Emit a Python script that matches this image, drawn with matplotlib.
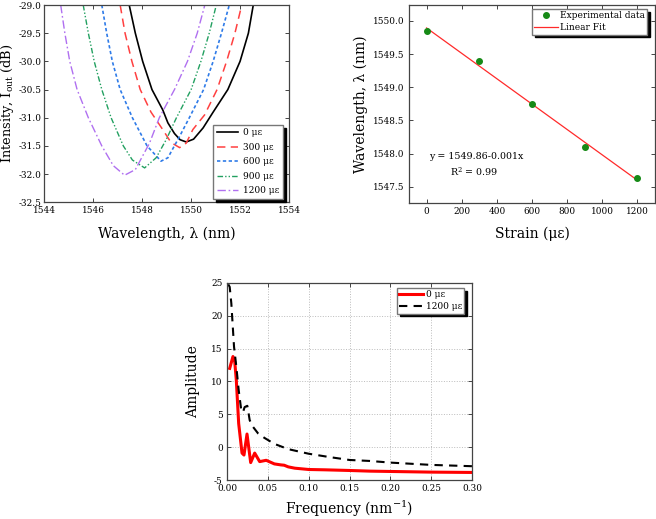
import numpy as np
import matplotlib
matplotlib.use("Agg")
import matplotlib.pyplot as plt
from matplotlib.ticker import FormatStrFormatter

plt.rcParams["font.family"] = ["DejaVu Serif"]
plt.rcParams["mathtext.fontset"] = "dejavuserif"
plt.rcParams["axes.unicode_minus"] = False

# ---------------------------------------------------------------------------
# Data: transmission dips (panel a)
# ---------------------------------------------------------------------------

dip_labels = ["0 με", "300 με", "600 με", "900 με", "1200 με"]

wl_0 = [1547.47, 1547.72, 1548.02, 1548.40, 1548.84, 1549.05, 1549.32, 1549.55, 1549.80,
        1550.10, 1550.49, 1550.90, 1551.50, 1552.00, 1552.34, 1552.54]
int_0 = [-29.0, -29.5, -30.0, -30.5, -30.86, -31.09, -31.28, -31.39, -31.43,
         -31.38, -31.18, -30.9, -30.5, -30.0, -29.5, -29.0]

wl_300 = [1547.10, 1547.30, 1547.58, 1547.92, 1548.36, 1548.84, 1549.18, 1549.53,
          1549.80, 1550.07, 1550.55, 1551.06, 1551.45, 1551.79, 1552.07]
int_300 = [-29.0, -29.5, -30.0, -30.5, -30.9, -31.21, -31.44, -31.53,
           -31.45, -31.21, -30.95, -30.5, -30.0, -29.5, -29.0]

wl_600 = [1546.35, 1546.55, 1546.78, 1547.10, 1547.60, 1548.20, 1548.77,
          1549.05, 1549.53, 1549.95, 1550.51, 1550.90, 1551.24, 1551.56]
int_600 = [-29.0, -29.5, -30.0, -30.5, -31.0, -31.5, -31.77,
           -31.71, -31.33, -30.98, -30.5, -30.0, -29.5, -29.0]

wl_900 = [1545.59, 1545.80, 1546.04, 1546.35, 1546.73, 1547.23, 1547.60, 1548.10,
          1548.57, 1548.98, 1549.40, 1550.00, 1550.40, 1550.74, 1551.03]
int_900 = [-29.0, -29.5, -30.0, -30.5, -31.0, -31.5, -31.75, -31.89,
           -31.71, -31.39, -31.0, -30.5, -30.0, -29.5, -29.0]

wl_1200 = [1544.67, 1544.84, 1545.04, 1545.34, 1545.80, 1546.35, 1546.82, 1547.28,
           1547.72, 1548.30, 1548.70, 1549.32, 1549.85, 1550.25, 1550.56]
int_1200 = [-29.0, -29.5, -30.0, -30.5, -31.0, -31.5, -31.85, -32.02,
            -31.92, -31.45, -31.0, -30.5, -30.0, -29.5, -29.0]

# ---------------------------------------------------------------------------
# Data: dip wavelength vs strain (panel b)
# ---------------------------------------------------------------------------

strain = [0, 300, 600, 900, 1200]
dip_wl = [1549.85, 1549.40, 1548.75, 1548.10, 1547.63]

# ---------------------------------------------------------------------------
# Data: spatial frequency spectrum (panel c)
# ---------------------------------------------------------------------------

freq_0 = [0.0033, 0.0073, 0.0095, 0.0114, 0.0143, 0.0184, 0.0208, 0.0245, 0.029, 0.0339,
          0.040, 0.048, 0.058, 0.066, 0.070, 0.075, 0.083, 0.10, 0.12, 0.15, 0.175, 0.20,
          0.25, 0.30]
amp_0 = [12.0, 13.8, 13.0, 10.2, 3.6, -0.9, -1.2, 2.0, -2.35, -0.9,
         -2.2, -2.0, -2.55, -2.7, -2.75, -3.0, -3.2, -3.4, -3.45, -3.55, -3.65, -3.7,
         -3.8, -3.85]

freq_1200 = [0.0016, 0.0033, 0.0053, 0.0086, 0.0114, 0.0143, 0.0175, 0.0195, 0.0216, 0.0249,
             0.0278, 0.0318, 0.038, 0.046, 0.058, 0.075, 0.10, 0.125, 0.15, 0.175, 0.20,
             0.25, 0.30]
amp_1200 = [24.8, 24.4, 21.9, 15.3, 12.3, 8.7, 5.6, 5.3, 6.1, 6.3,
            4.1, 3.1, 2.1, 1.4, 0.5, -0.3, -1.0, -1.5, -1.95, -2.1, -2.35,
            -2.7, -2.9]

# ---------------------------------------------------------------------------
# Figure
# ---------------------------------------------------------------------------

W, H = 656, 519
fig = plt.figure(figsize=(W / 100, H / 100), dpi=100)


def px_axes(x0, y0, x1, y1):
    return fig.add_axes([x0 / W, 1 - y1 / H, (x1 - x0) / W, (y1 - y0) / H])


TICK = 6.4
LABEL = 10
SPINE = "#444444"
legend_kw = dict(frameon=True, fancybox=False, framealpha=1, edgecolor="#777777",
                 shadow={"color": "black", "alpha": 1}, borderaxespad=0, fontsize=6.5)


def style(a):
    a.tick_params(direction="in", top=True, right=True, labelsize=TICK,
                  length=3, width=0.7, color=SPINE, pad=3)
    for s in a.spines.values():
        s.set_color(SPINE)
        s.set_linewidth(0.9)


# panel a ------------------------------------------------------------------
ax1 = px_axes(44.3, 5, 289, 202.3)
dips = [(wl_0, int_0), (wl_300, int_300), (wl_600, int_600), (wl_900, int_900), (wl_1200, int_1200)]
colors = ["black", "#ff4040", "#2f7be8", "#22a060", "#b070f0"]
styles = ["-", (0, (5.5, 3.5)), (0, (2, 1.5)), (0, (4, 1.5, 1, 1.5, 1, 1.5)), (0, (6, 2, 1.2, 2))]
widths = [1.2, 1.1, 1.2, 1.0, 1.0]
for (wl, iv), c, ls, lw, lab in zip(dips, colors, styles, widths, dip_labels):
    ax1.plot(wl, iv, color=c, ls=ls, lw=lw, label=lab)
ax1.set_xlim(1544, 1554)
ax1.set_ylim(-32.5, -29.0)
ax1.set_xticks(np.arange(1544, 1555, 2))
ax1.set_yticks(np.arange(-32.5, -28.9, 0.5))
ax1.yaxis.set_major_formatter(FormatStrFormatter("%.1f"))
ax1.tick_params(axis="y", pad=2)
ax1.set_xlabel("Wavelength, λ (nm)", fontsize=LABEL, labelpad=8)
ax1.set_ylabel(r"Intensity, I$_\mathrm{out}$ (dB)", fontsize=9.3, labelpad=1.5)
style(ax1)
ax1.tick_params(axis="y", pad=2)
ax1.legend(loc="lower right", bbox_to_anchor=(0.975, 0.018), handlelength=2.4,
           handletextpad=0.5, borderpad=0.4, labelspacing=0.6, **legend_kw)

# panel b ------------------------------------------------------------------
ax2 = px_axes(409, 5, 655, 202.7)
coef = np.polyfit(strain, dip_wl, 1)
fit_x = np.array([strain[0], strain[-1]])
ax2.plot(strain, dip_wl, "o", color="#168a16", ms=4, label="Experimental data", zorder=3)
ax2.plot(fit_x, np.polyval(coef, fit_x), color="#ff2a2a", lw=0.9, label="Linear Fit")
ax2.set_xlim(-100, 1300)
ax2.set_ylim(1547.26, 1550.24)
ax2.set_xticks(np.arange(0, 1201, 200))
ax2.set_yticks(np.arange(1547.5, 1550.01, 0.5))
ax2.yaxis.set_major_formatter(FormatStrFormatter("%.1f"))
ax2.set_xlabel("Strain (με)", fontsize=LABEL, labelpad=8)
ax2.set_ylabel("Wavelength, λ (nm)", fontsize=LABEL, labelpad=4)
ax2.text(0.08, 0.236, "y = 1549.86-0.001x", transform=ax2.transAxes, va="center", fontsize=6.8)
ax2.text(0.265, 0.155, r"R$^2$ = 0.99", transform=ax2.transAxes, ha="center", va="center",
         fontsize=6.8)
style(ax2)
ax2.legend(loc="upper right", bbox_to_anchor=(0.968, 0.98), handlelength=2.6,
           handletextpad=0.25, borderpad=0.25, labelspacing=0.35, **legend_kw)

# panel c ------------------------------------------------------------------
ax3 = px_axes(227, 283, 472, 480)
ax3.plot(freq_0, amp_0, color="#ff0000", lw=2.2, label="0 με")
ax3.plot(freq_1200, amp_1200, color="black", lw=1.5, ls=(0, (4, 3)), label="1200 με")
ax3.set_xlim(0, 0.30)
ax3.set_ylim(-5, 25)
ax3.set_xticks(np.arange(0, 0.301, 0.05))
ax3.set_yticks(np.arange(-5, 26, 5))
ax3.xaxis.set_major_formatter(FormatStrFormatter("%.2f"))
ax3.grid(True, ls=":", color="#bbbbbb", lw=0.7)
ax3.set_xlabel(r"Frequency (nm$^{-1}$)", fontsize=LABEL, labelpad=4)
ax3.set_ylabel("Amplitude", fontsize=LABEL, labelpad=8)
style(ax3)
ax3.legend(loc="upper right", bbox_to_anchor=(0.968, 0.975), handlelength=2.6,
           handletextpad=0.3, borderpad=0.25, labelspacing=0.35, **legend_kw)

fig.savefig("out.png", dpi=100)
